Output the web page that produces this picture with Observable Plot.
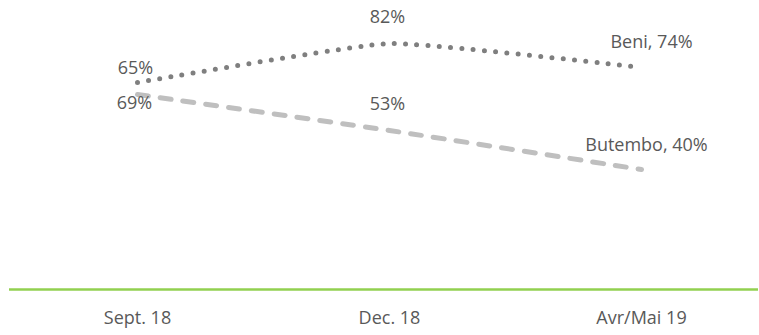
<!DOCTYPE html>
<html>
<head>
<meta charset="utf-8">
<script src="https://cdn.jsdelivr.net/npm/d3@7"></script>
<script src="https://cdn.jsdelivr.net/npm/@observablehq/plot@0.6"></script>
<style>
  html, body { margin: 0; padding: 0; background: #fff; }
  #chart { width: 759px; height: 335px; }
</style>
</head>
<body>
<div id="chart"></div>
<script>
const categories = ["Sept. 18", "Dec. 18", "Avr/Mai 19"];
const seriesNames = ["Beni", "Butembo"];
const beniValues = [69, 82, 74];
const butemboValues = [65, 53, 40];

const rows = [];
[beniValues, butemboValues].forEach((vals, s) => {
  vals.forEach((v, i) => rows.push({series: seriesNames[s], cat: categories[i], value: v, i}));
});
const last = categories.length - 1;
const labelText = d => d.i === last ? `${d.series}, ${d.value}%` : `${d.value}%`;

const beniRows = rows.filter(d => d.series === "Beni");
const butRows = rows.filter(d => d.series === "Butembo");

const textColor = "#595959";
const lbl = {x: "cat", y: "value", text: labelText, fill: textColor, fontSize: 18};

const chart = Plot.plot({
  width: 759,
  height: 335,
  marginLeft: 9,
  marginRight: 1,
  marginTop: 13,
  marginBottom: 46,
  style: {fontFamily: "'Open Sans', sans-serif", fontSize: "18px", color: textColor, background: "#fff"},
  x: {type: "point", domain: categories, padding: 0.486, align: 0.522, label: null},
  y: {domain: [0, 92], axis: null},
  marks: [
    Plot.ruleY([0], {stroke: "#92d050", strokeWidth: 2.5}),
    Plot.axisX({tickSize: 0, tickPadding: 22, fontSize: 18, fill: textColor, label: null}),
    Plot.line(butRows, {x: "cat", y: "value", stroke: "#bfbfbf", strokeWidth: 5,
      strokeDasharray: "11 12", strokeLinecap: "round", curve: "cardinal", tension: 0.6}),
    Plot.line(beniRows, {x: "cat", y: "value", stroke: "#7f7f7f", strokeWidth: 5,
      strokeDasharray: "0 11.3", strokeLinecap: "round", curve: "cardinal", tension: 0.6}),
    // middle and Butembo first labels: above the point
    Plot.text(rows.filter(d => d.i > 0 && d.i < last || (d.series === "Butembo" && d.i === 0)),
      {...lbl, dy: -26, dx: -2}),
    // Beni first label: below the point
    Plot.text(rows.filter(d => d.series === "Beni" && d.i === 0), {...lbl, dy: 21, dx: -3}),
    // last labels with series name
    Plot.text(beniRows.filter(d => d.i === last), {...lbl, dy: -25, dx: 10}),
    Plot.text(butRows.filter(d => d.i === last), {...lbl, dy: -24, dx: 5})
  ]
});
document.getElementById("chart").appendChild(chart);
</script>
</body>
</html>
